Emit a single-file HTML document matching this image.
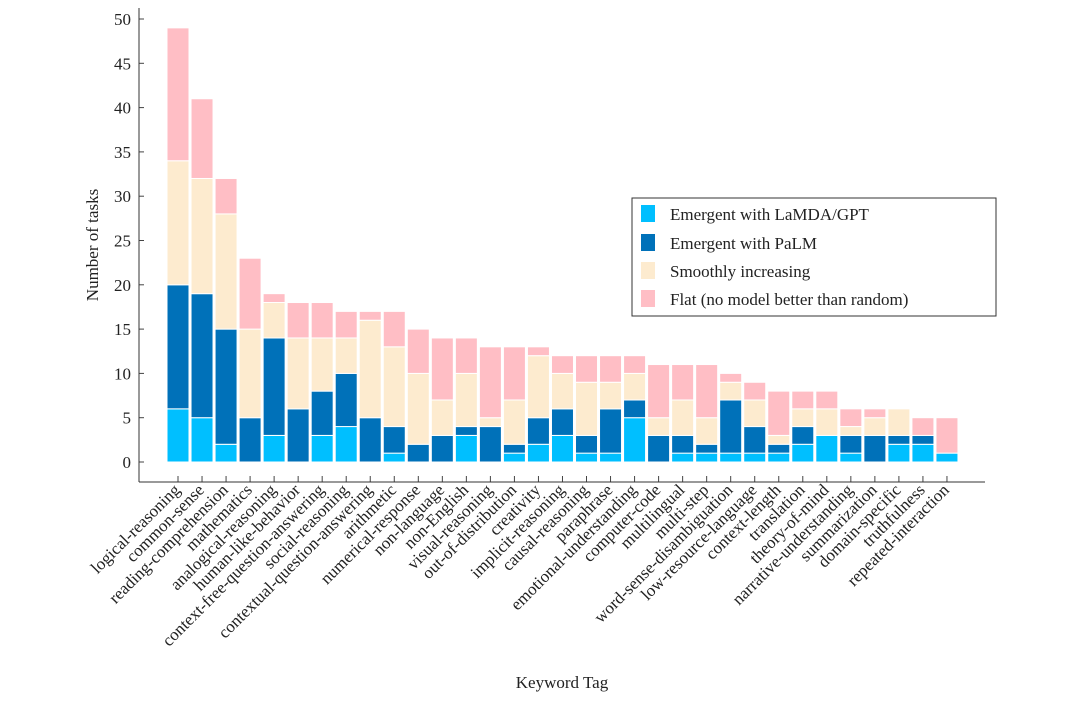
<!DOCTYPE html>
<html><head><meta charset="utf-8"><style>
body{margin:0;background:#fff;}
svg text{font-family:"Liberation Serif","DejaVu Serif",serif;fill:#222;}
</style></head><body>
<svg id="chart" width="1080" height="712" xmlns="http://www.w3.org/2000/svg">
<g id="bars"></g>
<g id="axes"></g>
<text x="0" y="0" font-size="17" text-anchor="middle" transform="translate(98,245) rotate(-90)">Number of tasks</text>
<text x="562" y="688" font-size="17" text-anchor="middle">Keyword Tag</text>
<g>
<rect x="632" y="198" width="364" height="118" fill="#fff" stroke="#333" stroke-width="1"/>
<rect x="641" y="205" width="14" height="17" fill="#00bfff"/>
<text x="670" y="220" font-size="17">Emergent with LaMDA/GPT</text>
<rect x="641" y="234" width="14" height="17" fill="#0071b9"/>
<text x="670" y="249" font-size="17">Emergent with PaLM</text>
<rect x="641" y="262" width="14" height="17" fill="#fdebcf"/>
<text x="670" y="277" font-size="17">Smoothly increasing</text>
<rect x="641" y="290" width="14" height="17" fill="#ffbec5"/>
<text x="670" y="305" font-size="17">Flat (no model better than random)</text>
</g>
</svg>
<script>
const categories=["logical-reasoning","common-sense","reading-comprehension","mathematics","analogical-reasoning","human-like-behavior","context-free-question-answering","social-reasoning","contextual-question-answering","arithmetic","numerical-response","non-language","non-English","visual-reasoning","out-of-distribution","creativity","implicit-reasoning","causal-reasoning","paraphrase","emotional-understanding","computer-code","multilingual","multi-step","word-sense-disambiguation","low-resource-language","context-length","translation","theory-of-mind","narrative-understanding","summarization","domain-specific","truthfulness","repeated-interaction"];
const lamda=[6,5,2,0,3,0,3,4,0,1,0,0,3,0,1,2,3,1,1,5,0,1,1,1,1,1,2,3,1,0,2,2,1];
const palm=[14,14,13,5,11,6,5,6,5,3,2,3,1,4,1,3,3,2,5,2,3,2,1,6,3,1,2,0,2,3,1,1,0];
const smooth=[14,13,13,10,4,8,6,4,11,9,8,4,6,1,5,7,4,6,3,3,2,4,3,2,3,1,2,3,1,2,3,0,0];
const flat=[15,9,4,8,1,4,4,3,1,4,5,7,4,8,6,1,2,3,3,2,6,4,6,1,2,5,2,2,2,1,0,2,4];
const yTicks=[0,5,10,15,20,25,30,35,40,45,50];
const seriesColors=["#00bfff","#0071b9","#fdebcf","#ffbec5"];
const seriesNames=["lamda","palm","smooth","flat"];
const NS="http://www.w3.org/2000/svg";
const y0=462, pxPerUnit=8.86, x0=167, step=24.03, bw=22;
function yScale(v){return y0-v*pxPerUnit;}
function xScale(i){return x0+i*step;}
const bars=document.getElementById('bars'), axes=document.getElementById('axes');
const series=[lamda,palm,smooth,flat];
categories.forEach((c,i)=>{
  let cum=0;
  series.forEach((s,k)=>{
    const v=s[i]; if(v<=0){return;}
    const r=document.createElementNS(NS,'rect');
    
    
    r.setAttribute('x',xScale(i));r.setAttribute('width',bw);
    r.setAttribute('y',yScale(cum+v));r.setAttribute('height',v*pxPerUnit);
    r.setAttribute('fill',seriesColors[k]);r.setAttribute('stroke','#fff');r.setAttribute('stroke-width','1');
    bars.appendChild(r);cum+=v;
  });
  const cx=xScale(i)+bw/2;
  const t=document.createElementNS(NS,'line');
  t.setAttribute('x1',cx);t.setAttribute('x2',cx);t.setAttribute('y1',476);t.setAttribute('y2',482);t.setAttribute('stroke','#444');
  
  
  axes.appendChild(t);
  const l=document.createElementNS(NS,'text');
  
  
  l.setAttribute('font-size','17');l.setAttribute('text-anchor','end');
  l.setAttribute('transform','translate('+(cx+3)+',491) rotate(-45)');
  l.textContent=c;axes.appendChild(l);
});
yTicks.forEach(v=>{
  const y=yScale(v);
  const t=document.createElementNS(NS,'line');
  t.setAttribute('x1',139);t.setAttribute('x2',144);t.setAttribute('y1',y);t.setAttribute('y2',y);t.setAttribute('stroke','#444');
  
  
  axes.appendChild(t);
  const l=document.createElementNS(NS,'text');
  
  
  l.setAttribute('x',131);l.setAttribute('y',y+6);l.setAttribute('font-size','17');l.setAttribute('text-anchor','end');
  l.textContent=v;axes.appendChild(l);
});
const ya=document.createElementNS(NS,'line');


ya.setAttribute('x1',139);ya.setAttribute('x2',139);ya.setAttribute('y1',8);ya.setAttribute('y2',482);ya.setAttribute('stroke','#333');
axes.appendChild(ya);
const xa=document.createElementNS(NS,'line');


xa.setAttribute('x1',139);xa.setAttribute('x2',985);xa.setAttribute('y1',482);xa.setAttribute('y2',482);xa.setAttribute('stroke','#333');
axes.appendChild(xa);
</script>
</body></html>
